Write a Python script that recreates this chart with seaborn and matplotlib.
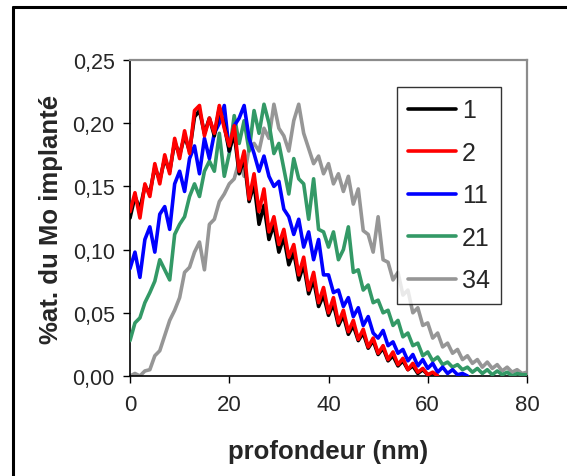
import numpy as np
import pandas as pd
import matplotlib
matplotlib.use('Agg')
import matplotlib.pyplot as plt
from matplotlib.ticker import FuncFormatter, MultipleLocator
from matplotlib.lines import Line2D
import seaborn as sns

# depth grid (nm), 1 nm step
depth = np.arange(0, 81)

# Mo concentration profiles (%at.)
mo_1 = [0.125, 0.142, 0.132, 0.150, 0.145, 0.165, 0.155, 0.172, 0.162, 0.185,
        0.175, 0.190, 0.178, 0.205, 0.210, 0.192, 0.204, 0.190, 0.212, 0.198,
        0.178, 0.192, 0.160, 0.172, 0.138, 0.152, 0.120, 0.135, 0.108, 0.120,
        0.098, 0.110, 0.088, 0.098, 0.076, 0.088, 0.065, 0.076, 0.055, 0.064,
        0.048, 0.057, 0.040, 0.048, 0.033, 0.040, 0.028, 0.034, 0.022, 0.028,
        0.017, 0.022, 0.012, 0.016, 0.008, 0.012, 0.005, 0.008, 0.002, 0.005,
        0.001, 0.002, 0.000]
mo_2 = [0.130, 0.145, 0.125, 0.152, 0.142, 0.168, 0.152, 0.175, 0.160, 0.188,
        0.172, 0.194, 0.176, 0.210, 0.214, 0.190, 0.204, 0.192, 0.214, 0.196,
        0.182, 0.198, 0.162, 0.178, 0.140, 0.160, 0.130, 0.148, 0.114, 0.126,
        0.104, 0.116, 0.094, 0.104, 0.080, 0.094, 0.068, 0.082, 0.058, 0.070,
        0.050, 0.062, 0.042, 0.052, 0.035, 0.044, 0.029, 0.037, 0.023, 0.030,
        0.018, 0.024, 0.013, 0.019, 0.009, 0.014, 0.005, 0.010, 0.003, 0.006,
        0.001, 0.003, 0.000]
mo_11 = [0.085, 0.098, 0.078, 0.108, 0.118, 0.098, 0.128, 0.134, 0.116, 0.152,
         0.162, 0.146, 0.172, 0.182, 0.160, 0.188, 0.172, 0.192, 0.200, 0.214,
         0.178, 0.198, 0.204, 0.214, 0.188, 0.176, 0.162, 0.174, 0.158, 0.150,
         0.154, 0.132, 0.126, 0.112, 0.124, 0.102, 0.114, 0.092, 0.108, 0.080,
         0.080, 0.066, 0.068, 0.055, 0.062, 0.047, 0.054, 0.040, 0.047, 0.034,
         0.030, 0.036, 0.024, 0.027, 0.018, 0.021, 0.012, 0.017, 0.008, 0.013,
         0.006, 0.010, 0.003, 0.007, 0.002, 0.005, 0.001, 0.002, 0.000]
mo_21 = [0.028, 0.042, 0.046, 0.058, 0.066, 0.075, 0.092, 0.084, 0.076, 0.112,
         0.120, 0.126, 0.142, 0.152, 0.142, 0.162, 0.170, 0.162, 0.192, 0.158,
         0.176, 0.206, 0.184, 0.202, 0.178, 0.210, 0.192, 0.215, 0.200, 0.176,
         0.184, 0.164, 0.144, 0.172, 0.156, 0.152, 0.124, 0.156, 0.116, 0.114,
         0.102, 0.114, 0.092, 0.100, 0.118, 0.082, 0.084, 0.068, 0.072, 0.058,
         0.060, 0.050, 0.052, 0.040, 0.044, 0.031, 0.034, 0.024, 0.026, 0.016,
         0.019, 0.012, 0.015, 0.009, 0.011, 0.007, 0.009, 0.005, 0.007, 0.003,
         0.006, 0.002, 0.005, 0.001, 0.004, 0.001, 0.003, 0.000, 0.002, 0.001,
         0.001]
mo_34 = [0.000, 0.002, 0.000, 0.004, 0.005, 0.016, 0.020, 0.032, 0.044, 0.052,
         0.062, 0.082, 0.086, 0.098, 0.106, 0.084, 0.120, 0.124, 0.138, 0.144,
         0.152, 0.156, 0.170, 0.158, 0.180, 0.184, 0.178, 0.196, 0.188, 0.215,
         0.196, 0.190, 0.178, 0.202, 0.215, 0.192, 0.180, 0.168, 0.174, 0.160,
         0.168, 0.152, 0.160, 0.146, 0.158, 0.136, 0.148, 0.115, 0.112, 0.098,
         0.126, 0.092, 0.090, 0.076, 0.082, 0.064, 0.068, 0.050, 0.054, 0.040,
         0.042, 0.030, 0.034, 0.023, 0.026, 0.018, 0.021, 0.013, 0.016, 0.010,
         0.013, 0.007, 0.011, 0.006, 0.009, 0.004, 0.007, 0.003, 0.005, 0.002,
         0.003]

labels = ['1', '2', '11', '21', '34']
colors = ['#000000', '#FF0000', '#0000FF', '#339966', '#969696']
profiles = [mo_1, mo_2, mo_11, mo_21, mo_34]

sns.set_style('white')
plt.rcParams['font.family'] = ['Liberation Sans', 'DejaVu Sans']

fig = plt.figure(figsize=(5.67, 4.77), dpi=100)
ax = fig.add_axes([130 / 567, 1 - 377 / 477, 397 / 567, 316 / 477])

# draw back to front so red sits over black like in the original
draw_order = [4, 3, 2, 0, 1]
handles = {}
for i in draw_order:
    vals = profiles[i]
    df = pd.DataFrame({'depth': depth[:len(vals)], 'mo': vals})
    sns.lineplot(data=df, x='depth', y='mo', color=colors[i], linewidth=2.6,
                 ax=ax, zorder=2 + draw_order.index(i))
    handles[labels[i]] = Line2D([], [], color=colors[i], linewidth=2.6)

ax.set_xlim(0, 80)
ax.set_ylim(0, 0.25)
ax.xaxis.set_major_locator(MultipleLocator(20))
ax.yaxis.set_major_locator(MultipleLocator(0.05))
ax.yaxis.set_major_formatter(FuncFormatter(lambda v, p: f'{v:.2f}'.replace('.', ',')))
ax.tick_params(axis='both', direction='out', length=5, width=1, color='black')
ax.tick_params(axis='x', labelsize=16, pad=8)
ax.tick_params(axis='y', labelsize=15.5, pad=6)
ax.tick_params(bottom=True, left=True)

for side in ['left', 'bottom']:
    ax.spines[side].set_color('black')
    ax.spines[side].set_linewidth(1.2)
for side in ['top', 'right']:
    ax.spines[side].set_color('#8c8c8c')
    ax.spines[side].set_linewidth(1.6)

ax.set_xlabel('profondeur (nm)', fontsize=18.5, fontweight='bold')
ax.set_ylabel('%at. du Mo implanté', fontsize=18.5, fontweight='bold')
ax.xaxis.set_label_coords(0.499, -0.200)
ax.yaxis.set_label_coords(-0.168, 0.5)

leg = ax.legend([handles[l] for l in labels], labels, loc='upper left',
                bbox_to_anchor=(397 / 567, 1 - 88 / 477), bbox_transform=fig.transFigure,
                frameon=True, fancybox=False, fontsize=18, handlelength=1.9,
                handletextpad=0.25, labelspacing=0.74, borderpad=0.45, borderaxespad=0)
leg.get_frame().set_edgecolor('black')
leg.get_frame().set_linewidth(1.0)
leg.set_zorder(20)

# outer frame of the original chart (only left and top edges are visible)
fig.add_artist(Line2D([13 / 567, 13 / 567], [0, 1 - 8 / 477], color='black', linewidth=2.2,
                      transform=fig.transFigure))
fig.add_artist(Line2D([13 / 567, 1], [1 - 8 / 477, 1 - 8 / 477], color='black', linewidth=2.2,
                      transform=fig.transFigure))

fig.savefig('out.png', dpi=100)
